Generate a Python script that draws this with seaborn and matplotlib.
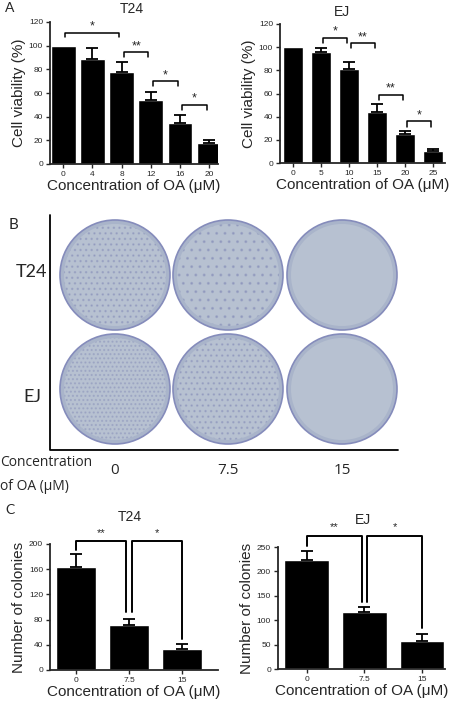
import matplotlib
matplotlib.use('Agg')
import matplotlib.pyplot as plt
import seaborn as sns
import pandas as pd
from matplotlib.patches import Circle

# panel A: cell viability
t24_conc = ['0', '4', '8', '12', '16', '20']
t24_viab = [100, 89, 78, 54, 35, 18]
t24_viab_err = [0, 9, 8, 7, 6, 2]
ej_conc = ['0', '5', '10', '15', '20', '25']
ej_viab = [100, 96, 81, 44, 25, 10.5]
ej_viab_err = [0, 3, 6, 7, 3, 2]
t24_sig = [(0, 2, 111, '*'), (2, 3, 94.5, '**'), (3, 4, 70, '*'), (4, 5, 50, '*')]
ej_sig = [(1, 2, 108, '*'), (2, 3, 103.5, '**'), (3, 4, 59, '**'), (4, 5, 36, '*')]

# panel C: colony numbers
col_conc = ['0', '7.5', '15']
t24_col = [163, 71, 34]
t24_col_err = [21, 10, 7]
ej_col = [224, 116, 57]
ej_col_err = [17, 12, 15]
t24_col_sig = [(0, 1, 204, 190, 92, '**'), (1, 2, 204, 92, 50, '*')]
ej_col_sig = [(0, 1, 272, 253, 138, '**'), (1, 2, 272, 138, 83, '*')]

# panel B labels
dish_rows = ['T24', 'EJ']
dish_conc = ['0', '7.5', '15']
dish_hatch = [['...', '..', ''], ['....', '...', '']]

sns.set_style('ticks')
plt.rcParams['font.family'] = ['Liberation Sans', 'DejaVu Sans']

W, H = 450, 701
fig = plt.figure(figsize=(W / 100, H / 100), dpi=100)


def box(l, t, r, b):
    return [l / W, 1 - b / H, (r - l) / W, (b - t) / H]


def bar_panel(rect, conc, vals, errs, width, xlim, ylim, yticks, ylabel, title, tx, ty):
    ax = fig.add_axes(rect)
    df = pd.DataFrame({'conc': conc, 'val': vals})
    sns.barplot(data=df, x='conc', y='val', order=conc, color='black',
                width=width, saturation=1, errorbar=None, ax=ax)
    idx = [k for k in range(len(vals)) if errs[k] > 0]
    ax.errorbar(idx, [vals[k] for k in idx], yerr=[[0] * len(idx), [errs[k] for k in idx]],
                fmt='none', ecolor='black', elinewidth=1.3, capsize=4.5, capthick=1.3)
    ax.set_xlim(*xlim)
    ax.set_ylim(*ylim)
    ax.set_yticks(yticks)
    ax.set_xlabel('Concentration of OA (\u03bcM)', fontsize=11, labelpad=1)
    ax.set_ylabel(ylabel, fontsize=11, labelpad=2)
    ax.tick_params(labelsize=6, width=1, length=3, pad=2)
    for s in ['top', 'right']:
        ax.spines[s].set_visible(False)
    for s in ['left', 'bottom']:
        ax.spines[s].set_linewidth(1.3)
    fig.text(tx / W, 1 - ty / H, title, fontsize=10, ha='center', va='center')
    return ax


def step_brackets(ax, sig, drop):
    for i, j, h, txt in sig:
        x0, x1 = i + 0.08, j - 0.08
        ax.plot([x0, x0, x1, x1], [h - drop, h, h, h - drop], color='black',
                lw=1.1, clip_on=False)
        ax.text((x0 + x1) / 2, h, txt, ha='center', va='bottom', fontsize=9)


def tall_brackets(ax, sig):
    for i, j, h, b0, b1, txt in sig:
        x0 = i + (0.05 if i > 0 else 0)
        x1 = j - 0.05 if j < 2 else j
        ax.plot([x0, x0, x1, x1], [b0, h, h, b1], color='black', lw=1.4, clip_on=False)
        ax.text((x0 + x1) / 2, h * 1.03, txt, ha='center', va='bottom', fontsize=8)


# panel A
a1 = bar_panel(box(50, 22, 218, 164), t24_conc, t24_viab, t24_viab_err, 0.85,
               (-0.45, 5.3), (0, 120), range(0, 121, 20), 'Cell viability (%)', 'T24', 132, 9)
step_brackets(a1, t24_sig, 4)
a2 = bar_panel(box(280, 24, 445, 163), ej_conc, ej_viab, ej_viab_err, 0.72,
               (-0.46, 5.43), (0, 120), range(0, 121, 20), 'Cell viability (%)', 'EJ', 342, 12)
step_brackets(a2, ej_sig, 4.5)
fig.text(5 / W, 1 - 8 / H, 'A', fontsize=10, family='Lato', va='center')

# panel C
c1 = bar_panel(box(50, 544, 218, 670), col_conc, t24_col, t24_col_err, 0.75,
               (-0.49, 2.68), (0, 200), range(0, 201, 40), 'Number of colonies', 'T24', 130, 517)
tall_brackets(c1, t24_col_sig)
c2 = bar_panel(box(278, 547, 445, 669), col_conc, ej_col, ej_col_err, 0.78,
               (-0.5, 2.4), (0, 250), range(0, 251, 50), 'Number of colonies', 'EJ', 363, 520)
tall_brackets(c2, ej_col_sig)
fig.text(5 / W, 1 - 510 / H, 'C', fontsize=10, family='Lato', va='center')

# panel B: colony dishes
b = fig.add_axes(box(0, 195, 450, 500))
b.set_xlim(0, 450)
b.set_ylim(500, 195)
b.axis('off')
dish_x = [115, 228, 342]
dish_y = [275, 389]
for r, cy in enumerate(dish_y):
    for c, cx in enumerate(dish_x):
        b.add_patch(Circle((cx, cy), 55, facecolor='#a9b4ca', edgecolor='#858cbb', lw=1.2))
        b.add_patch(Circle((cx, cy), 51, facecolor='#b7c1d1', edgecolor='none'))
        if dish_hatch[r][c]:
            b.add_patch(Circle((cx, cy), 51, facecolor='none', edgecolor='#4a4f9a',
                               lw=0, hatch=dish_hatch[r][c], alpha=0.2))
b.plot([50, 50, 398], [215, 450, 450], color='black', lw=1.3)
b.text(13, 225, 'B', fontsize=11, family='Lato', ha='center', va='center')
for lab, cy in zip(dish_rows, [272, 397]):
    b.text(32, cy, lab, fontsize=13, family='Lato', ha='center', va='center')
for lab, cx in zip(dish_conc, dish_x):
    b.text(cx, 470, lab, fontsize=11, family='Open Sans', ha='center', va='center')
b.text(0, 462, 'Concentration', fontsize=10, family='Open Sans', ha='left', va='center')
b.text(0, 487, 'of OA (\u03bcM)', fontsize=10, family='Open Sans', ha='left', va='center')

fig.savefig('out.png', dpi=100, facecolor='white')
